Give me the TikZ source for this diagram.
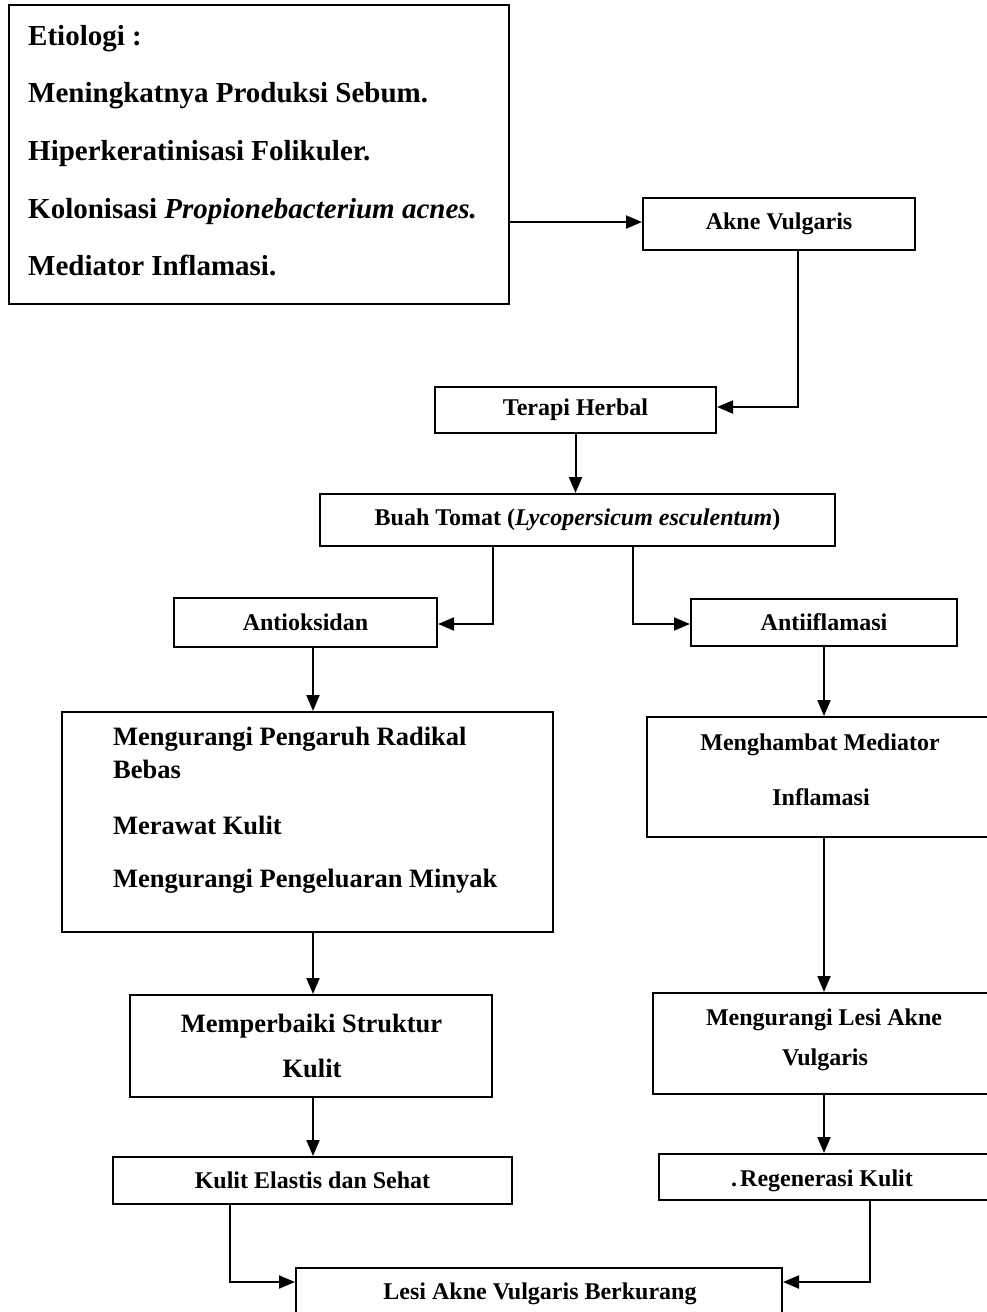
\documentclass[tikz,border=0pt]{standalone}
\usepackage{fontspec}
\setmainfont{Liberation Serif}
\usetikzlibrary{arrows.meta}
\begin{document}
\begin{tikzpicture}[x=1pt,y=-1pt,
  box/.style={draw, line width=2pt, inner sep=0pt, font=\bfseries\fontsize{24}{28}\selectfont},
  txt/.style={inner sep=0pt, font=\bfseries\fontsize{24}{28}\selectfont},
  bigtxt/.style={inner sep=0pt, font=\bfseries\fontsize{26.5}{30}\selectfont},
  etxt/.style={inner sep=0pt, anchor=base west, font=\bfseries\fontsize{29}{34}\selectfont},
  arr/.style={line width=2pt, -{Triangle[length=16pt,width=13pt]}}]
\useasboundingbox[fill=white] (0,0) rectangle (987,1312);

% coordinates for connector columns
\coordinate (colL) at (313,0);
\coordinate (colR) at (824,0);
\coordinate (colAk) at (798,0);
\coordinate (colBL) at (493,0);
\coordinate (colBR) at (633,0);
\coordinate (colK) at (230,0);
\coordinate (colRg) at (870,0);
\coordinate (rowE) at (0,222);
\coordinate (rowT) at (0,407);
\coordinate (rowA) at (0,624);
\coordinate (rowL) at (0,1282);

% Etiologi box
\node[box, minimum width=500pt, minimum height=299pt] (etio) at (259,154.5) {};
\node[etxt] (e1) at (28,45) {Etiologi :};
\node[etxt] (e2) at (28,102) {Meningkatnya Produksi Sebum.};
\node[etxt] (e3) at (28,160) {Hiperkeratinisasi Folikuler.};
\node[etxt] (e4) at (28,218) {Kolonisasi \textit{Propionebacterium acnes.}};
\node[etxt] (e5) at (28,275) {Mediator Inflamasi.};

% Akne Vulgaris
\node[box, minimum width=272pt, minimum height=52pt] (akne) at (779,224) {Akne Vulgaris};
% Terapi Herbal
\node[box, minimum width=281pt, minimum height=46pt] (terapi) at (575.5,410) {Terapi Herbal};
% Buah Tomat
\node[box, minimum width=515pt, minimum height=52pt] (buah) at (577.5,520) {Buah Tomat (\textit{Lycopersicum esculentum})};
% Antioksidan / Antiiflamasi
\node[box, minimum width=263pt, minimum height=49pt] (antiok) at (305.5,622.5) {Antioksidan};
\node[box, minimum width=266pt, minimum height=47pt] (antiinf) at (824,622.5) {Antiiflamasi};

% Left big box
\node[box, minimum width=491pt, minimum height=220pt] (leftbox) at (307.5,822) {};
\node[bigtxt, anchor=base west] (l1) at (113,745) {Mengurangi Pengaruh Radikal};
\node[bigtxt, anchor=base west] (l2) at (113,778) {Bebas};
\node[bigtxt, anchor=base west] (l3) at (113,834) {Merawat Kulit};
\node[bigtxt, anchor=base west] (l4) at (113,887) {Mengurangi Pengeluaran Minyak};

% Right box Menghambat
\node[box, minimum width=348pt, minimum height=120pt] (mengh) at (821,777) {};
\node[txt, anchor=base] (m1) at (820,750) {Menghambat Mediator};
\node[txt, anchor=base] (m2) at (821,805) {Inflamasi};

% Memperbaiki Struktur Kulit
\node[box, minimum width=362pt, minimum height=102pt] (memper) at (311,1046) {};
\node[bigtxt, anchor=base] (p1) at (311.5,1032) {Memperbaiki Struktur};
\node[bigtxt, anchor=base] (p2) at (312,1077) {Kulit};

% Mengurangi Lesi Akne Vulgaris
\node[box, minimum width=342pt, minimum height=101pt] (lesi1) at (824,1043.5) {};
\node[txt, anchor=base] (q1) at (824,1025) {Mengurangi Lesi Akne};
\node[txt, anchor=base] (q2) at (825,1065) {Vulgaris};

% Kulit Elastis dan Sehat
\node[box, minimum width=399pt, minimum height=47pt] (kulit) at (312.5,1180.5) {Kulit Elastis dan Sehat};
% Regenerasi Kulit
\node[box, minimum width=336pt, minimum height=46pt] (regen) at (827,1177) {};
\node[txt, anchor=base] (r1) at (822,1186) {.\hspace{3pt}Regenerasi Kulit};

% Lesi Akne Vulgaris Berkurang
\node[box, minimum width=486pt, minimum height=52pt] (lesi) at (539,1294) {};
\node[txt, anchor=base] (s1) at (540,1299) {Lesi Akne Vulgaris Berkurang};

% connectors
\draw[arr] (etio.east |- rowE) -- (akne.west |- rowE);
\draw[arr] (akne.south -| colAk) |- (terapi.east |- rowT);
\draw[arr] (terapi.south) -- (buah.north -| terapi.south);
\draw[arr] (buah.south -| colBL) |- (antiok.east |- rowA);
\draw[arr] (buah.south -| colBR) |- (antiinf.west |- rowA);
\draw[arr] (antiok.south -| colL) -- (leftbox.north -| colL);
\draw[arr] (antiinf.south -| colR) -- (mengh.north -| colR);
\draw[arr] (leftbox.south -| colL) -- (memper.north -| colL);
\draw[arr] (mengh.south -| colR) -- (lesi1.north -| colR);
\draw[arr] (memper.south -| colL) -- (kulit.north -| colL);
\draw[arr] (lesi1.south -| colR) -- (regen.north -| colR);
\draw[arr] (kulit.south -| colK) |- (lesi.west |- rowL);
\draw[arr] (regen.south -| colRg) |- (lesi.east |- rowL);
\end{tikzpicture}
\end{document}
